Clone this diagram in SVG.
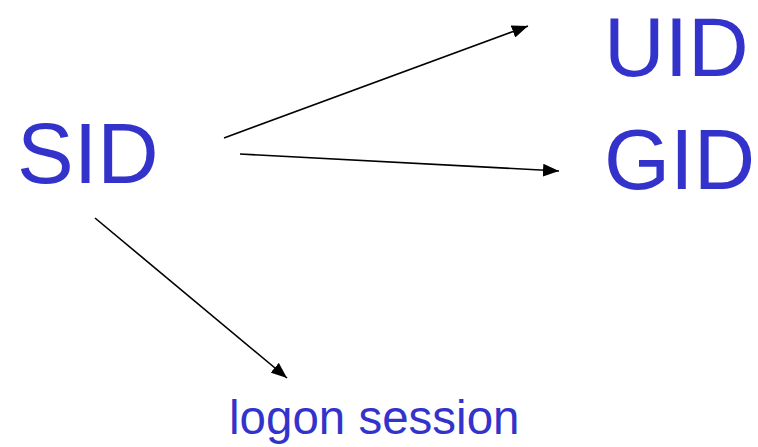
<svg xmlns="http://www.w3.org/2000/svg" width="758" height="447" viewBox="0 0 758 447">
  <style>
    .lbl { font-family: "Liberation Sans", Arial, sans-serif; fill: #3333CC; }
    .big { font-size: 85px; }
    .small { font-size: 47.5px; }
    .edge { stroke: #000; stroke-width: 1.6; fill: none; marker-end: url(#arrow); }
  </style>
  <defs>
    <marker id="arrow" markerWidth="10" markerHeight="8" refX="10" refY="4" orient="auto" markerUnits="strokeWidth">
      <path d="M0,0 L10,4 L0,8 Z" fill="#000"/>
    </marker>
  </defs>
  <rect width="758" height="447" fill="#fff"/>

  <g id="connectors">
    <line class="edge" x1="224" y1="138" x2="528" y2="26"/>
    <line class="edge" x1="240" y1="154" x2="559" y2="171"/>
    <line class="edge" x1="95" y1="218" x2="287" y2="378"/>
  </g>

  <g id="sid">
    <text class="lbl big" x="17" y="183">SID</text>
  </g>
  <g id="uid">
    <text class="lbl big" x="604" y="76" style="font-size:84px">UID</text>
  </g>
  <g id="gid">
    <text class="lbl big" x="604" y="189">GID</text>
  </g>
  <g id="logon-session">
    <text class="lbl small" x="229" y="434">logon session</text>
  </g>
</svg>
